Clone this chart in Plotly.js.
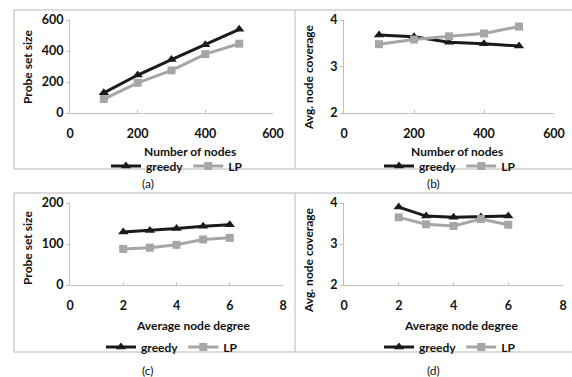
<!DOCTYPE html>
<html>
<head>
<meta charset="utf-8">
<script src="https://cdn.plot.ly/plotly-3.0.1.min.js"></script>
<style>html,body{margin:0;padding:0;background:#fff;}#chart{width:572px;height:377px;}</style>
</head>
<body>
<div id="chart"></div>
<script>
// Data
const nodes = [100, 200, 300, 400, 500];
const greedyProbeNodes = [130, 245, 345, 440, 540];
const lpProbeNodes = [90, 195, 275, 380, 447];
const greedyCovNodes = [3.68, 3.64, 3.52, 3.49, 3.44];
const lpCovNodes = [3.48, 3.58, 3.65, 3.71, 3.86];

const degree = [2, 3, 4, 5, 6];
const greedyProbeDeg = [129, 133, 138, 143, 147];
const lpProbeDeg = [88, 91, 98, 111, 115];
const greedyCovDeg = [3.9, 3.68, 3.65, 3.66, 3.68];
const lpCovDeg = [3.65, 3.48, 3.44, 3.61, 3.47];

const xTitles = ["Number of nodes", "Number of nodes", "Average node degree", "Average node degree"];
const yTitles = ["Probe set size", "Avg. node coverage", "Probe set size", "Avg. node coverage"];
const captions = ["(a)", "(b)", "(c)", "(d)"];
const seriesNames = ["greedy", "LP"];

const W = 572, H = 377;
const FONT = "Lato, 'Open Sans', sans-serif";
const px = v => v / W;
const py = v => 1 - v / H;

const greedyStyle = {color: "#1a1a1a", width: 3};
const lpStyle = {color: "#a6a6a6", width: 3};

const panels = [
  {x: nodes, g: greedyProbeNodes, l: lpProbeNodes, xr: [0, 600], xd: 200, yr: [0, 600], yd: 200,
   dom: [[70, 273], [20, 113]], leg: [177, 166], xt: [190, 151], yt: [27, 67], cap: [148, 183]},
  {x: nodes, g: greedyCovNodes, l: lpCovNodes, xr: [0, 600], xd: 200, yr: [2, 4], yd: 1,
   dom: [[344, 554], [20, 113]], leg: [450, 166], xt: [457, 151], yt: [308, 77], cap: [433, 183]},
  {x: degree, g: greedyProbeDeg, l: lpProbeDeg, xr: [0, 8], xd: 2, yr: [0, 200], yd: 100,
   dom: [[70, 283], [203, 285]], leg: [172, 347], xt: [193, 325], yt: [27, 248], cap: [148, 370]},
  {x: degree, g: greedyCovDeg, l: lpCovDeg, xr: [0, 8], xd: 2, yr: [2, 4], yd: 1,
   dom: [[344, 563], [203, 285]], leg: [450, 347], xt: [461, 325], yt: [308, 260], cap: [433, 370]}
];

const data = [];
const layout = {
  width: W, height: H,
  margin: {l: 0, r: 0, t: 0, b: 0},
  paper_bgcolor: "#fff", plot_bgcolor: "rgba(0,0,0,0)",
  font: {family: FONT, size: 12, color: "#111"},
  showlegend: true,
  annotations: [],
  shapes: []
};

panels.forEach((p, i) => {
  const n = i === 0 ? "" : String(i + 1);
  const xa = "x" + n, ya = "y" + n;
  const legName = "legend" + n;
  data.push({x: p.x, y: p.g, xaxis: xa, yaxis: ya, type: "scatter", mode: "lines+markers",
    name: seriesNames[0], legend: legName, line: greedyStyle,
    marker: {symbol: "triangle-up", size: 9, color: "#1a1a1a"}, cliponaxis: false});
  data.push({x: p.x, y: p.l, xaxis: xa, yaxis: ya, type: "scatter", mode: "lines+markers",
    name: seriesNames[1], legend: legName, line: lpStyle,
    marker: {symbol: "square", size: 8, color: "#a6a6a6"}, cliponaxis: false});

  layout["xaxis" + n] = {
    domain: [px(p.dom[0][0]), px(p.dom[0][1])], anchor: ya, range: p.xr, dtick: p.xd, tick0: 0,
    showgrid: false, zeroline: false, showline: true, linecolor: "#bfbfbf", linewidth: 1,
    ticks: "inside", ticklen: 3, tickcolor: "#bfbfbf", ticklabelstandoff: 9,
    tickfont: {family: FONT, size: 12.5, color: "#111", weight: "bold"}, fixedrange: true
  };
  layout["yaxis" + n] = {
    domain: [py(p.dom[1][1]), py(p.dom[1][0])], anchor: xa, range: p.yr, dtick: p.yd, tick0: 0,
    showgrid: false, zeroline: false, showline: true, linecolor: "#bfbfbf", linewidth: 1,
    ticks: "outside", ticklen: 3, tickcolor: "#bfbfbf",
    tickfont: {family: FONT, size: 12.5, color: "#111", weight: "bold"}, fixedrange: true
  };
  layout[legName] = {
    orientation: "h", x: px(p.leg[0]), y: py(p.leg[1]), xanchor: "center", yanchor: "middle",
    bgcolor: "rgba(0,0,0,0)", font: {family: FONT, size: 12, color: "#111", weight: "bold"},
    itemwidth: 30, tracegroupgap: 0
  };
  layout.annotations.push({text: xTitles[i], xref: "paper", yref: "paper", x: px(p.xt[0]), y: py(p.xt[1]),
    xanchor: "center", yanchor: "middle", showarrow: false,
    font: {family: FONT, size: 12, color: "#111", weight: "bold"}});
  layout.annotations.push({text: yTitles[i], xref: "paper", yref: "paper", x: px(p.yt[0]), y: py(p.yt[1]),
    xanchor: "center", yanchor: "middle", showarrow: false, textangle: -90,
    font: {family: FONT, size: 12, color: "#111", weight: "bold"}});
  layout.annotations.push({text: captions[i], xref: "paper", yref: "paper", x: px(p.cap[0]), y: py(p.cap[1]),
    xanchor: "center", yanchor: "middle", showarrow: false,
    font: {family: FONT, size: 12, color: "#111"}});
});

// Panel frames
const lineStyle = {color: "#cfcfcf", width: 1.5};
[[10, 169], [193, 352]].forEach(([t, b]) => {
  layout.shapes.push({type: "line", xref: "paper", yref: "paper", x0: px(14), x1: px(572), y0: py(t), y1: py(t), line: lineStyle});
  layout.shapes.push({type: "line", xref: "paper", yref: "paper", x0: px(14), x1: px(572), y0: py(b), y1: py(b), line: lineStyle});
  layout.shapes.push({type: "line", xref: "paper", yref: "paper", x0: px(14), x1: px(14), y0: py(t), y1: py(b), line: lineStyle});
  layout.shapes.push({type: "line", xref: "paper", yref: "paper", x0: px(295), x1: px(295), y0: py(t), y1: py(b), line: lineStyle});
});

Plotly.newPlot("chart", data, layout, {staticPlot: true, displayModeBar: false});
</script>
</body>
</html>
